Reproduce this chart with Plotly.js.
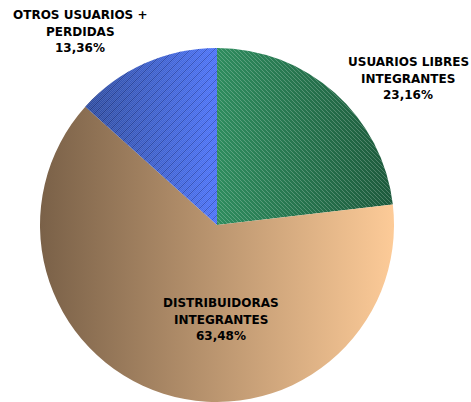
<!DOCTYPE html>
<html>
<head>
<meta charset="utf-8">
<script src="https://cdn.plot.ly/plotly-3.0.1.min.js"></script>
<style>html,body{margin:0;padding:0;background:#fff;}#chart{width:471px;height:402px;}</style>
</head>
<body>
<div id="chart"></div>
<script>
const labels = ['USUARIOS LIBRES<br>INTEGRANTES', 'DISTRIBUIDORAS<br>INTEGRANTES', 'OTROS USUARIOS +<br>PERDIDAS'];
const values = [23.16, 63.48, 13.36];
const percentText = ['23,16%', '63,48%', '13,36%'];
const baseColors = ['#26734c', '#c19a74', '#3a5ed0'];
const gradStops = [['#2e8c5e', '#1d5a3c'], ['#7a6148', '#fdcb98'], ['#2c4a9e', '#4b72f8']];

const labelFont = {family: 'DejaVu Sans, Verdana, sans-serif', size: 12, color: '#000'};
// label block centre x and first-line y (pixels)
const labelPos = [[408, 62], [221, 303], [80, 15]];
const lineGap = 16.5;

const trace = {
  type: 'pie',
  labels: labels,
  values: values,
  sort: false,
  direction: 'clockwise',
  rotation: 0,
  textinfo: 'none',
  hoverinfo: 'none',
  marker: {colors: baseColors, line: {width: 0}},
  domain: {x: [40/471, 394/471], y: [0, 354/402]},
  showlegend: false
};

const annotations = [];
labels.forEach((l, i) => {
  const lines = l.split('<br>').concat([percentText[i]]);
  lines.forEach((t, k) => {
    annotations.push({
      xref: 'paper', yref: 'paper',
      x: labelPos[i][0] / 471, y: 1 - (labelPos[i][1] + k * lineGap) / 402,
      xanchor: 'center', yanchor: 'middle',
      text: '<b>' + t + '</b>',
      showarrow: false, align: 'center', font: labelFont
    });
  });
});

const layout = {
  width: 471, height: 402,
  margin: {l: 0, r: 0, t: 0, b: 0},
  paper_bgcolor: '#fff',
  annotations: annotations
};

Plotly.newPlot('chart', [trace], layout, {displayModeBar: false, staticPlot: true}).then(() => {
  const NS = 'http://www.w3.org/2000/svg';
  const svg = document.querySelector('#chart svg.main-svg');
  const defs = document.createElementNS(NS, 'defs');
  svg.insertBefore(defs, svg.firstChild);
  gradStops.forEach((s, i) => {
    const g = document.createElementNS(NS, 'linearGradient');
    g.setAttribute('id', 'grad' + i);
    g.setAttribute('x1', '0'); g.setAttribute('y1', '0');
    g.setAttribute('x2', '1'); g.setAttribute('y2', '0');
    [[0, s[0]], [1, s[1]]].forEach(([o, c]) => {
      const st = document.createElementNS(NS, 'stop');
      st.setAttribute('offset', o); st.setAttribute('stop-color', c);
      g.appendChild(st);
    });
    defs.appendChild(g);
  });
  let checker = '';
  for (let y = 0; y < 8; y++) {
    for (let x = (y % 2); x < 8; x += 2) {
      checker += '<rect x="' + x + '" y="' + y + '" width="1" height="1" fill="rgba(255,255,255,0.13)"/>';
    }
  }
  defs.insertAdjacentHTML('beforeend',
    '<pattern id="hatch0" patternUnits="userSpaceOnUse" width="4" height="4">' +
    '<path d="M-1,-1 L5,5 M-1,3 L1,5 M3,-1 L5,1" stroke="rgba(255,255,255,0.22)" stroke-width="1"/></pattern>' +
    '<pattern id="hatch2" patternUnits="userSpaceOnUse" width="8" height="8">' + checker +
    '<path d="M-1,9 L9,-1 M-1,1 L1,-1 M7,9 L9,7" stroke="rgba(10,20,80,0.28)" stroke-width="1"/></pattern>');
  const paths = document.querySelectorAll('#chart .slice path.surface');
  paths.forEach((p, i) => {
    p.style.fill = 'url(#grad' + i + ')';
    if (i === 0 || i === 2) {
      const c = p.cloneNode();
      c.style.fill = 'url(#hatch' + i + ')';
      c.style.stroke = 'none';
      p.parentNode.insertBefore(c, p.nextSibling);
    }
  });
});
</script>
</body>
</html>
